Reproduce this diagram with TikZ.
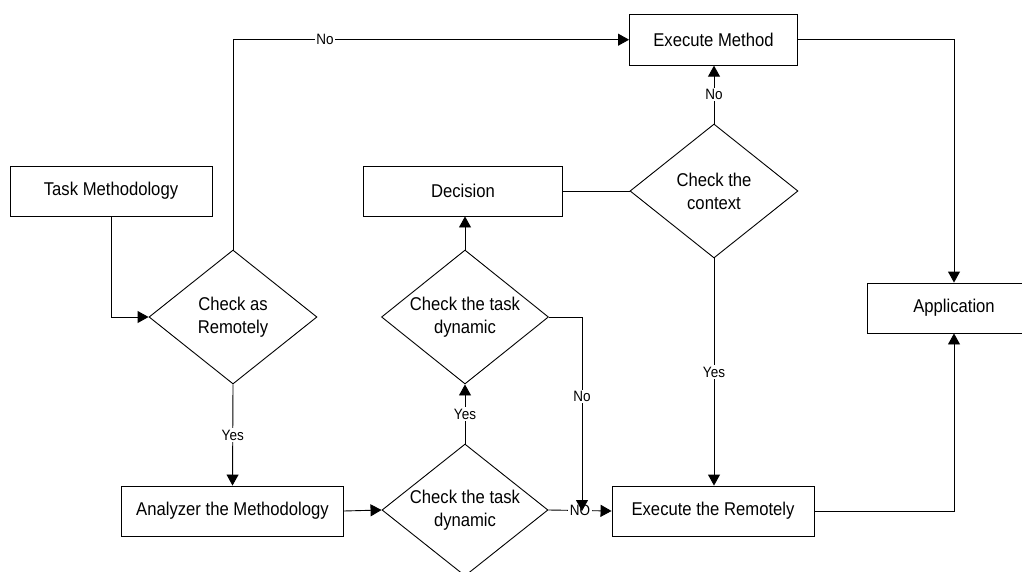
\documentclass[tikz,border=0pt]{standalone}
\usepackage{fontspec}
\setmainfont{Liberation Sans}[FakeStretch=0.9]
\usetikzlibrary{shapes.geometric,arrows.meta}
\begin{document}
\begin{tikzpicture}[x=1pt,y=-1pt,
  every node/.style={font=\fontsize{18.5}{23}\selectfont},
  box/.style={draw=black,line width=0.9pt,rectangle,inner sep=0pt},
  dia/.style={draw=black,line width=0.9pt,diamond,inner sep=0pt,aspect=1.25},
  txt/.style={align=center,inner sep=0pt},
  lab/.style={font=\fontsize{15}{18}\selectfont,fill=white,inner sep=1.5pt},
  con/.style={line width=0.9pt,draw=black},
  arr/.style={con,-{Triangle[length=11pt,width=12pt]}}]
\useasboundingbox (0,0) rectangle (1022,572);
% boxes
\node[box,minimum width=168pt,minimum height=51pt] (em) at (713.5,39.7) {Execute Method};
\node[box,minimum width=202pt,minimum height=50pt] (tm) at (111,191) {Task Methodology};
\node[box,minimum width=199pt,minimum height=50pt] (dec) at (463,191) {Decision};
\node[box,minimum width=174pt,minimum height=50pt] (app) at (954,308) {Application};
\node[box,minimum width=222pt,minimum height=50pt] (ana) at (232.5,511) {Analyzer the Methodology};
\node[box,minimum width=202pt,minimum height=50pt] (er) at (713,511) {Execute the Remotely};
% diamonds
\node[dia,minimum width=168pt,minimum height=134pt] (ctx) at (714,191) {};
\node[txt] (ctxt) at (ctx) {Check the\\context};
\node[dia,minimum width=168pt,minimum height=134pt] (car) at (233,317) {};
\node[txt] (cart) at (car) {Check as\\Remotely};
\node[dia,minimum width=167pt,minimum height=134pt] (ud) at (465,317) {};
\node[txt] (udt) at (ud) {Check the task\\dynamic};
\node[dia,minimum width=166pt,minimum height=132pt] (ld) at (465,510) {};
\node[txt] (ldt) at (ld) {Check the task\\dynamic};
\coordinate (j) at (582,511);
% connectors
\draw[arr] (tm.south) |- (car.west);
\draw[arr] (car.north) |- node[lab,pos=0.616] {No} (em.west);
\draw[arr] (car.south) -- node[lab] {Yes} (ana.north);
\draw[arr] (ana.east) -- (ld.west);
\draw[arr] (ld.north) -- node[lab] {Yes} (ud.south);
\draw[arr] (ud.north) -- (ud.north |- dec.south);
\draw[arr] (ld.east) -- node[lab] {NO} (er.west);
\draw[arr] (ud.east) -| node[lab,pos=0.705] {No} (j);
\draw[con] (ctx.west) -- (dec.east);
\draw[arr] (ctx.north) -- node[lab] {No} (ctx.north |- em.south);
\draw[arr] (ctx.south) -- node[lab] {Yes} (ctx.south |- er.north);
\draw[arr] (em.east) -| (app.north);
\draw[arr] (er.east) -| (app.south);
\end{tikzpicture}
\end{document}
